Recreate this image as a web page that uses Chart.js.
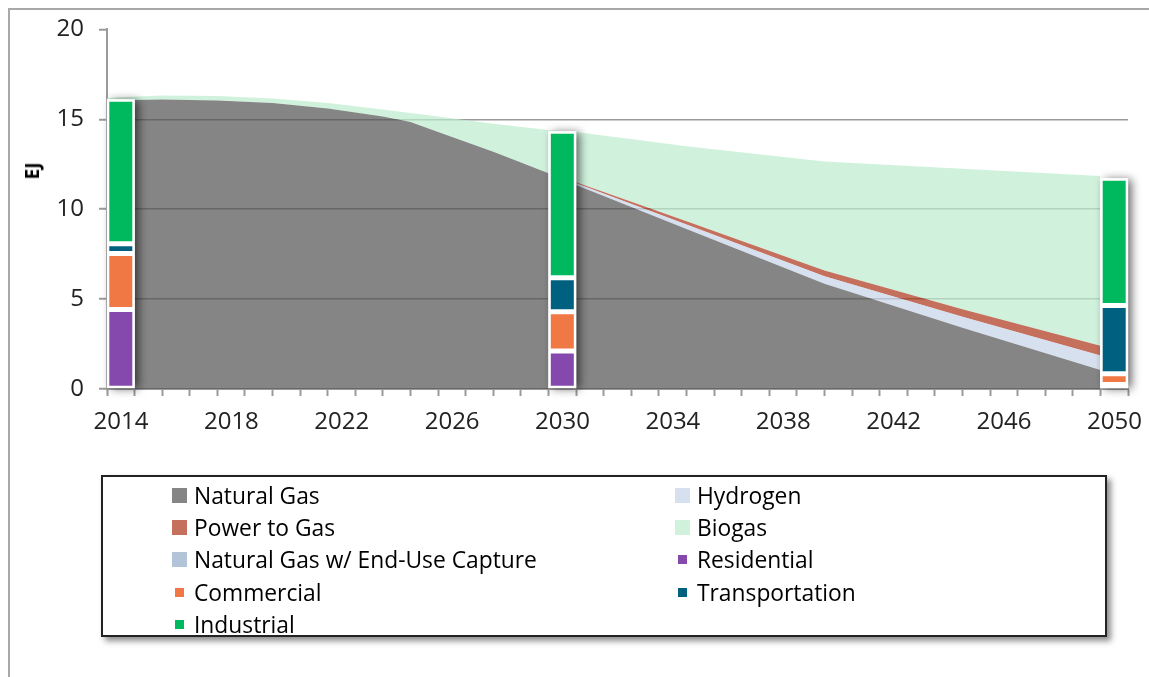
<!DOCTYPE html>
<html>
<head>
<meta charset="utf-8">
<script src="https://cdn.jsdelivr.net/npm/chart.js@4.4.1/dist/chart.umd.min.js"></script>
<style>
html,body{margin:0;padding:0;background:#fff;width:1149px;height:677px;overflow:hidden;font-family:'Open Sans',sans-serif;}
#frame{position:absolute;left:8px;top:8px;width:1200px;height:720px;border-left:2px solid #a8a8a8;border-top:2px solid #a8a8a8;}
#c{position:absolute;left:0;top:0;}
#ytitle{position:absolute;left:32px;top:171px;transform:translate(-50%,-50%) rotate(-90deg);font-weight:bold;font-size:19px;color:#000;}
#legend{position:absolute;left:101px;top:475px;width:1006px;height:162px;box-sizing:border-box;border:2px solid #222;background:#fff;box-shadow:4px 4px 6px rgba(0,0,0,0.45);display:grid;grid-template-columns:503px 503px;grid-auto-rows:32.3px;padding-top:2px;}
.item{display:flex;align-items:center;padding-left:69px;font-size:22.8px;color:#000;white-space:nowrap;}
.sw{width:15px;height:15px;display:flex;align-items:center;justify-content:center;margin-right:7px;flex:none;}
</style>
</head>
<body>
<div id="frame"></div>
<canvas id="c" width="1149" height="677"></canvas>
<div id="ytitle">EJ</div>
<div id="legend"></div>
<script>
// ---- data (EJ) ----
const areaYears   = [2014, 2016, 2018, 2020, 2022, 2024, 2025, 2026, 2028, 2030, 2031, 2035, 2040, 2045, 2050];
const naturalGas  = [16.05, 16.1, 16.05, 15.9, 15.6, 15.15, 14.85, 14.3, 13.2, 12.0, 11.35, 8.9, 5.85, 3.4, 1.06];
const ngCapture   = [0, 0, 0, 0, 0, 0, 0, 0, 0, 0, 0, 0, 0, 0, 0];
const hydrogen    = [0, 0, 0, 0, 0, 0, 0, 0, 0, 0, 0.09, 0.25, 0.42, 0.62, 0.8];
const powerToGas  = [0, 0, 0, 0, 0, 0, 0, 0, 0, 0, 0.06, 0.18, 0.32, 0.42, 0.54];
const biogas      = [0.15, 0.22, 0.25, 0.25, 0.3, 0.4, 0.5, 0.85, 1.55, 2.4, 2.8, 4.17, 6.06, 7.81, 9.45];

const barYears       = [2014, 2030, 2050];
const residential    = [4.42, 2.12, 0.25];
const commercial     = [3.11, 2.17, 0.6];
const transportation = [0.55, 1.9, 3.79];
const industrial     = [8.03, 8.15, 7.08];

const xLabelYears = [2014, 2018, 2022, 2026, 2030, 2034, 2038, 2042, 2046, 2050];
const yTicks = [0, 5, 10, 15, 20];

// ---- colours (as seen) ----
const colors = {
  'Natural Gas': [133,133,133],
  'Natural Gas w/ End-Use Capture': [179,195,216],
  'Hydrogen': [214,224,238],
  'Power to Gas': [197,112,93],
  'Biogas': [208,242,221],
  'Residential': [133,73,173],
  'Commercial': [240,120,68],
  'Transportation': [0,96,128],
  'Industrial': [0,185,94]
};
const rgb = c => `rgb(${c.join(',')})`;
// translucent fill that shows the given colour over white, letting gridlines show through
const veil = (c, a) => `rgba(${c.map(v => Math.max(0, Math.round((v - (1 - a) * 255) / a))).join(',')},${a})`;

function areaSet(label, values, idx) {
  return {
    type: 'line', label, stack: 'supply', order: 1,
    data: areaYears.map((yr, i) => ({x: yr, y: values[i]})),
    backgroundColor: veil(colors[label], 0.7),
    borderColor: 'rgba(0,0,0,0)', borderWidth: 0,
    pointRadius: 0, tension: 0,
    fill: idx === 0 ? 'origin' : '-1',
    _kind: 'area'
  };
}
function barSet(label, values) {
  return {
    type: 'bar', label, stack: 'demand', order: 0,
    data: barYears.map((yr, i) => ({x: yr + 0.5, y: values[i]})),
    backgroundColor: rgb(colors[label]),
    borderColor: '#ffffff', borderWidth: 2.5, borderSkipped: false,
    barThickness: 28, inflateAmount: 0,
    _kind: 'bar'
  };
}

const datasets = [
  areaSet('Natural Gas', naturalGas, 0),
  areaSet('Natural Gas w/ End-Use Capture', ngCapture, 1),
  areaSet('Hydrogen', hydrogen, 2),
  areaSet('Power to Gas', powerToGas, 3),
  areaSet('Biogas', biogas, 4),
  barSet('Residential', residential),
  barSet('Commercial', commercial),
  barSet('Transportation', transportation),
  barSet('Industrial', industrial)
];

const barShadow = {
  id: 'barShadow',
  beforeDatasetsDraw(chart) { chart.$shadowDone = false; },
  beforeDatasetDraw(chart, args) {
    if (chart.$shadowDone || args.meta.type !== 'bar') return;
    chart.$shadowDone = true;
    const metas = chart.getSortedVisibleDatasetMetas().filter(m => m.type === 'bar');
    const ctx = chart.ctx;
    const n = metas[0].data.length;
    ctx.save();
    for (let i = 0; i < n; i++) {
      let top = Infinity, bottom = -Infinity, left = 0, right = 0;
      metas.forEach(m => {
        const el = m.data[i]; if (!el) return;
        const p = el.getProps(['x', 'y', 'base', 'width'], true);
        top = Math.min(top, p.y, p.base); bottom = Math.max(bottom, p.y, p.base);
        left = p.x - p.width / 2; right = p.x + p.width / 2;
      });
      ctx.shadowColor = 'rgba(0,0,0,0.6)';
      ctx.shadowBlur = 9; ctx.shadowOffsetX = 4; ctx.shadowOffsetY = 1;
      ctx.fillStyle = '#ffffff';
      ctx.fillRect(left, top, right - left, bottom - top);
    }
    ctx.restore();
  }
};

const tickFont = {family: "'Open Sans', sans-serif", size: 24};

const chart = new Chart(document.getElementById('c'), {
  data: {datasets},
  options: {
    responsive: false,
    animation: false,
    layout: {padding: {left: 0, right: 21, top: 29, bottom: 228}},
    plugins: {legend: {display: false}, tooltip: {enabled: false}},
    scales: {
      x: {
        type: 'linear', min: 2014, max: 2051, position: 'bottom', offset: false,
        afterBuildTicks: s => { const t = []; for (let v = s.min; v <= s.max; v++) t.push({value: v}); s.ticks = t; },
        afterFit: s => { s.height = 60; },
        ticks: {
          autoSkip: false, maxRotation: 0, minRotation: 0, labelOffset: 14, padding: 12,
          font: tickFont, color: '#222',
          callback: v => xLabelYears.includes(v) ? String(v) : ''
        },
        grid: {offset: false, drawOnChartArea: false, drawTicks: true, tickLength: 7, tickColor: '#9a9a9a', tickWidth: 2},
        border: {color: '#9a9a9a', width: 2}
      },
      y: {
        stacked: true, min: 0, max: 20,
        afterBuildTicks: s => { s.ticks = yTicks.map(v => ({value: v})); },
        afterFit: s => { s.width = 107; },
        ticks: {font: tickFont, color: '#222', padding: 15},
        grid: {
          color: c => (c.tick && c.tick.value > 0 && c.tick.value < 20) ? '#999999' : 'rgba(0,0,0,0)',
          lineWidth: 1.5, tickLength: 8, tickColor: '#9a9a9a', tickWidth: 2
        },
        border: {color: '#9a9a9a', width: 2}
      }
    }
  },
  plugins: [barShadow]
});

// ---- legend (two columns, row-major) ----
const legendOrder = ['Natural Gas', 'Hydrogen', 'Power to Gas', 'Biogas', 'Natural Gas w/ End-Use Capture',
                     'Residential', 'Commercial', 'Transportation', 'Industrial'];
const legendEl = document.getElementById('legend');
legendOrder.forEach(name => {
  const ds = chart.data.datasets.find(d => d.label === name);
  const item = document.createElement('div'); item.className = 'item';
  const sw = document.createElement('span'); sw.className = 'sw';
  const sq = document.createElement('span');
  const size = ds._kind === 'area' ? 15 : 9;
  sq.style.cssText = `display:block;width:${size}px;height:${size}px;background:${rgb(colors[name])}`;
  sw.appendChild(sq);
  const tx = document.createElement('span'); tx.textContent = name;
  item.appendChild(sw); item.appendChild(tx);
  legendEl.appendChild(item);
});
</script>
</body>
</html>
